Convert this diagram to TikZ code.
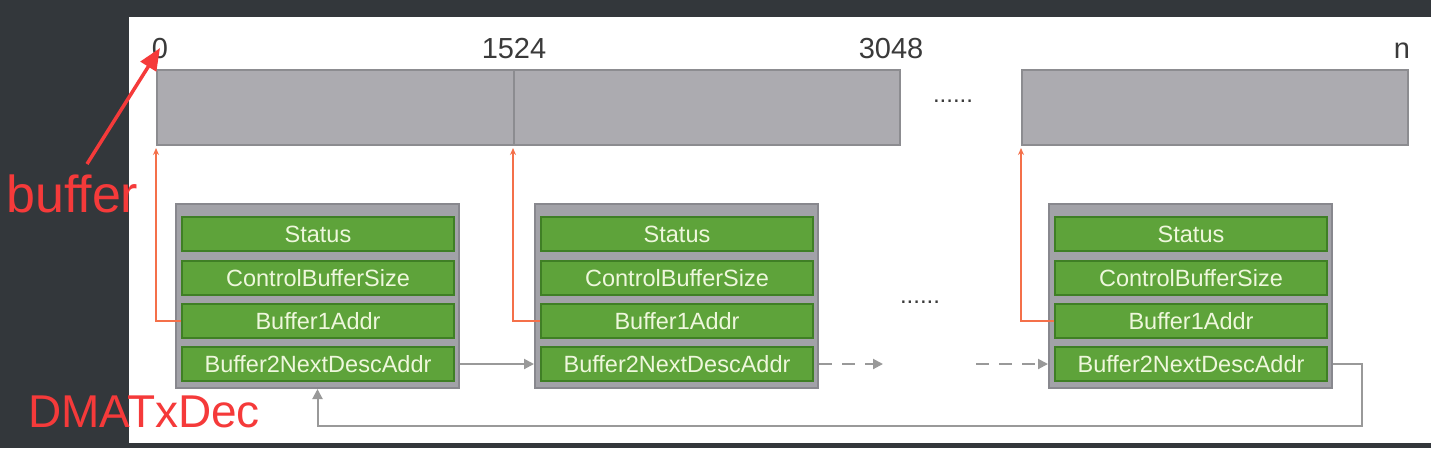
\documentclass[tikz,border=0pt]{standalone}
\usepackage{fontspec}
\setmainfont{Liberation Sans}
\usetikzlibrary{arrows.meta,calc}
\definecolor{bgdark}{HTML}{33373B}
\definecolor{bargray}{HTML}{ACABB0}
\definecolor{bardraw}{HTML}{8C8C90}
\definecolor{framegray}{HTML}{A2A2A8}
\definecolor{framedraw}{HTML}{88888E}
\definecolor{rowgreen}{HTML}{5EA33A}
\definecolor{rowdraw}{HTML}{3F7F25}
\definecolor{rowtext}{HTML}{EEF7DC}
\definecolor{linkgray}{HTML}{999999}
\definecolor{ptrorange}{HTML}{F4704A}
\definecolor{annred}{HTML}{F53A3A}
\definecolor{labdark}{HTML}{3A3A3A}
\begin{document}
\begin{tikzpicture}[x=1pt,y=-1pt,
  bar/.style={draw=bardraw,fill=bargray,line width=2pt,minimum height=75pt,inner sep=0pt},
  frame/.style={draw=framedraw,fill=framegray,line width=2pt,minimum width=283pt,minimum height=184pt,inner sep=0pt},
  row/.style={draw=rowdraw,fill=rowgreen,line width=1.5pt,minimum width=272pt,minimum height=34pt,inner sep=0pt,
    text=rowtext,font=\fontsize{23.5}{26}\selectfont},
  toplab/.style={text=labdark,anchor=base,inner sep=0pt,font=\fontsize{29}{32}\selectfont},
  dots/.style={text=labdark,inner sep=0pt,font=\fontsize{24}{26}\selectfont},
  ptr/.style={draw=ptrorange,line width=1.5pt,-{Stealth[length=7pt,width=6pt]},shorten >=2pt},
  link/.style={draw=linkgray,line width=2pt,-{Triangle[length=10pt,width=10pt]}},
  dlink/.style={link,dash pattern=on 13pt off 10pt},
  ann/.style={text=annred,inner sep=0pt,anchor=base west},
  annarrow/.style={draw=annred,line width=3.5pt,-{Triangle[length=22pt,width=18pt]}}
]
\useasboundingbox (0,0) rectangle (1431,448);
\fill[bgdark] (0,0) rectangle (1431,448);
\fill[white] (128.5,17) rectangle (1431,443);

% top buffer bars
\node[bar,minimum width=357pt] (b1) at (335.5,107.5) {};
\node[bar,minimum width=386pt] (b2) at (707,107.5) {};
\node[bar,minimum width=386pt] (b3) at (1215,107.5) {};

% offsets
\node[toplab] (lab0) at (160,58) {0};
\node[toplab] (lab1) at (514,58) {1524};
\node[toplab] (lab2) at (891,58) {3048};
\node[toplab] (labn) at (1402,58) {n};
\node[dots] (dotsA) at (953,101) {......};
\node[dots] (dotsB) at (920,302) {......};

% descriptors
\foreach \i/\x in {1/317.5,2/676.5,3/1190.5}{
  \node[frame] (d\i) at (\x,296) {};
  \node[row] (s\i) at (\x+0.5,234) {Status};
  \node[row] (c\i) at (\x+0.5,278) {ControlBufferSize};
  \node[row] (a\i) at (\x+0.5,321) {Buffer1Addr};
  \node[row] (n\i) at (\x+0.5,364) {Buffer2NextDescAddr};
}

% buffer pointers
\draw[ptr] (a1.west) -| (b1.south west);
\draw[ptr] (a2.west) -| (b2.south west);
\draw[ptr] (a3.west) -| (b3.south west);

% next-descriptor links
\coordinate (dA) at (883,364);
\coordinate (dB) at (976,364);
\coordinate (r1) at (1362,426);
\draw[link] (d1.east |- n1) -- (d2.west |- n2);
\draw[dlink] (d2.east |- n2) -- (dA);
\draw[dlink] (dB) -- (d3.west |- n3);
\draw[link] (d3.east |- n3) -| (r1) -| (d1.south);

% annotations
\node[ann,font=\fontsize{52}{56}\selectfont] (buf) at (6,212) {buffer};
\node[ann,font=\fontsize{46}{50}\selectfont] (dma) at (28,427) {DMATxDec};
\coordinate (rt) at (87,164);
\draw[annarrow] (rt) -- (lab0.center);
\end{tikzpicture}
\end{document}
